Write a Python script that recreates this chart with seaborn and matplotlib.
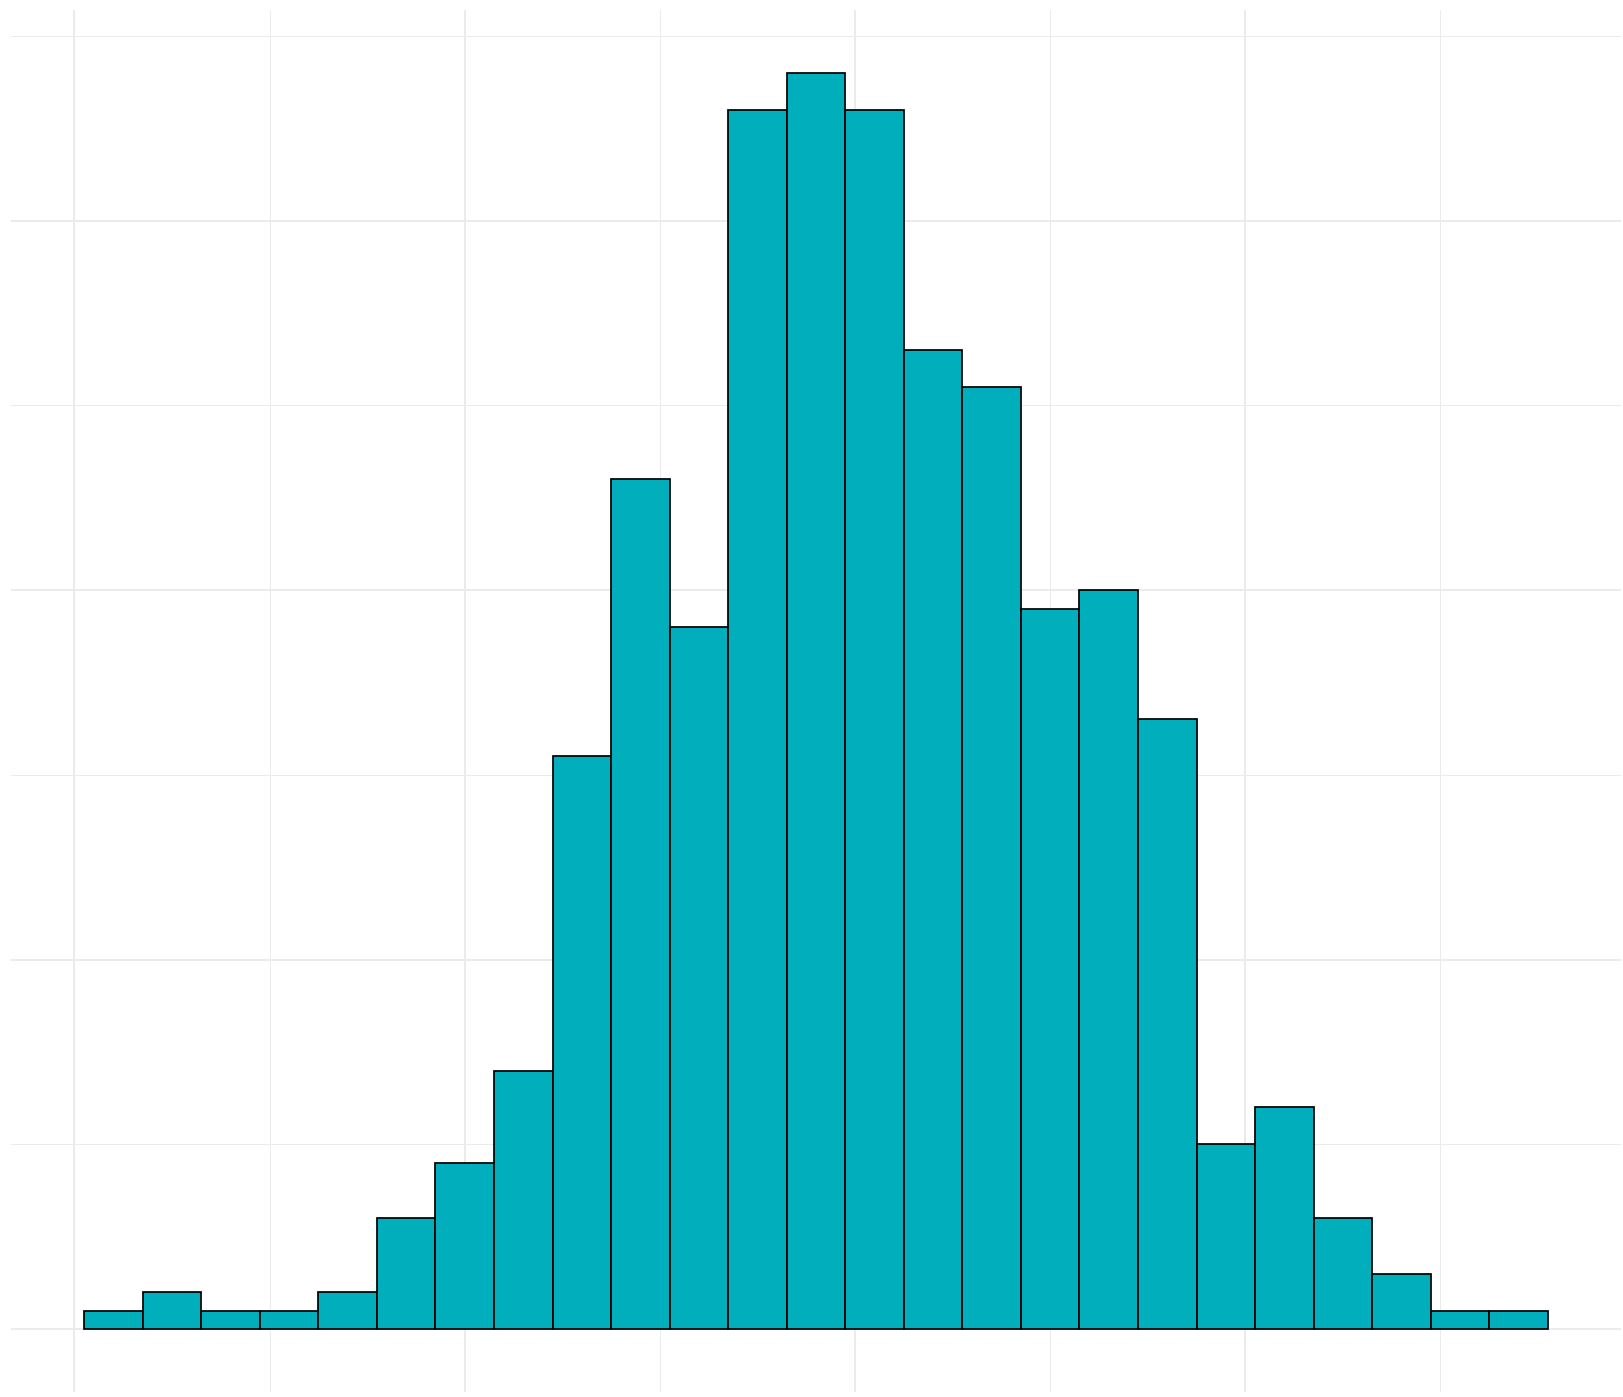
import numpy as np
import pandas as pd
import matplotlib
matplotlib.use("Agg")
import matplotlib.pyplot as plt
import seaborn as sns

counts = [1, 2, 1, 1, 2, 6, 9, 14, 31, 46, 38, 66, 68, 66,
          53, 51, 39, 40, 33, 10, 12, 6, 3, 1, 1]
bin_start = 0.25
bin_width = 1.5
x_major = [0, 10, 20, 30]
x_minor = [5, 15, 25, 35]
y_major = [0, 20, 40, 60]
y_minor = [10, 30, 50, 70]

edges = bin_start + bin_width * np.arange(len(counts) + 1)
centers = (edges[:-1] + edges[1:]) / 2
df = pd.DataFrame({"value": centers, "n": counts})

sns.set_theme(style="white")
fig = plt.figure(figsize=(16.24, 13.97), dpi=100)
ax = fig.add_axes([11 / 1624, 5 / 1397, 1610 / 1624, 1382 / 1397])

sns.histplot(data=df, x="value", weights="n", bins=list(edges),
             color="#00AFBB", alpha=1, edgecolor="black", linewidth=1.25, ax=ax)

# ggplot-like expansion of 5% on each side
xr = edges[-1] - edges[0]
ax.set_xlim(edges[0] - 0.05 * xr, edges[-1] + 0.05 * xr)
ymax = max(counts)
ax.set_ylim(-0.05 * ymax, ymax * 1.05)

ax.set_xticks(x_major)
ax.set_xticks(x_minor, minor=True)
ax.set_yticks(y_major)
ax.set_yticks(y_minor, minor=True)
ax.grid(which="major", color="#EBEBEB", linewidth=1.4)
ax.grid(which="minor", color="#EBEBEB", linewidth=0.7)
ax.set_axisbelow(True)
ax.tick_params(which="both", length=0, labelbottom=False, labelleft=False)
ax.set_xlabel("")
ax.set_ylabel("")
for s in ax.spines.values():
    s.set_visible(False)

fig.savefig("out.png", dpi=100, facecolor="white")
